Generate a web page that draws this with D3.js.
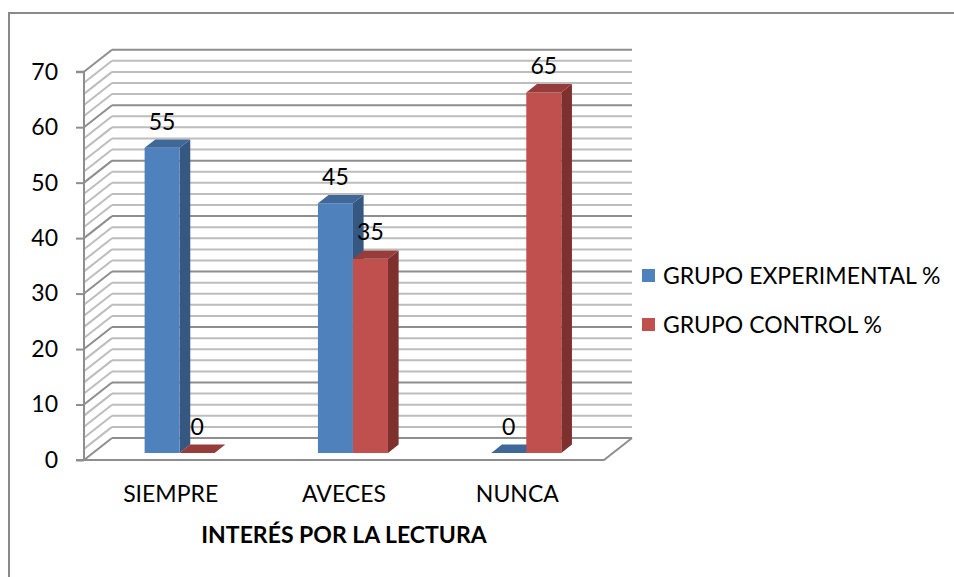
<!DOCTYPE html>
<html>
<head>
<meta charset="utf-8">
<script src="https://cdn.jsdelivr.net/npm/d3@7/dist/d3.min.js"></script>
<style>
  html, body { margin: 0; padding: 0; background: #fff; }
  svg { display: block; }
  text { font-family: Lato, "Open Sans", sans-serif; fill: #000; }
</style>
</head>
<body>
<svg id="chart" width="954" height="577"></svg>
<script>
// ---- data ----
const categories = ["SIEMPRE", "AVECES", "NUNCA"];
const seriesNames = ["GRUPO EXPERIMENTAL %", "GRUPO CONTROL %"];
const experimental = [55, 45, 0];
const control = [0, 35, 65];
const yTicks = [0, 10, 20, 30, 40, 50, 60, 70];
const axisTitle = "INTERÉS POR LA LECTURA";

// ---- styles ----
const colors = {
  front: ["#4F81BD", "#C0504D"],
  top:   ["#3F6797", "#963C3A"],
  side:  ["#36577F", "#7E302E"]
};
const FONT = 23;

const svg = d3.select("#chart");

// outer frame
svg.append("path")
  .attr("d", "M9,577 L9,13 L954,13")
  .attr("fill", "none").attr("stroke", "#898989").attr("stroke-width", 2);

// ---- scales ----
const plotLeft = 84, plotRight = 604;
const DX = 28, DY = 22;          // full wall depth
const z0 = 0.32, z1 = 0.70;       // bar depth slice

const y = d3.scaleLinear().domain([0, 70]).range([460, 71.7]);
const x0 = d3.scaleBand().domain(categories).range([plotLeft, plotRight])
  .paddingInner(0.596).paddingOuter(0.298);
const x1 = d3.scaleBand().domain(seriesNames).range([0, x0.bandwidth()]);

const proj = (x, yy, z) => [x + z * DX, yy - z * DY];
const pathOf = pts => "M" + pts.map(p => p.join(",")).join("L") + "Z";

// ---- walls / grid ----
const grid = svg.append("g");
const gridVals = d3.range(0, 71, 2);
gridVals.forEach(v => {
  const major = v % 10 === 0;
  const col = major ? "#8E8E8E" : "#BDBDBD";
  const a = proj(plotLeft, y(v), 1), b = proj(plotRight, y(v), 1);
  grid.append("line").attr("x1", a[0]).attr("y1", a[1]).attr("x2", b[0]).attr("y2", b[1])
    .attr("stroke", col).attr("stroke-width", 2);
  grid.append("line").attr("x1", plotLeft).attr("y1", y(v)).attr("x2", a[0]).attr("y2", a[1])
    .attr("stroke", col).attr("stroke-width", 2);
});
// floor
const f1 = proj(plotRight, y(0), 0), f2 = proj(plotRight, y(0), 1);
grid.append("path")
  .attr("d", `M${plotLeft},${y(0)}L${f1[0]},${f1[1]}L${f2[0]},${f2[1]}`)
  .attr("fill", "none").attr("stroke", "#8E8E8E").attr("stroke-width", 2);

// ---- y axis ----
const yAxis = d3.axisLeft(y).tickValues(yTicks).tickSize(8).tickPadding(18);
const gy = svg.append("g").attr("transform", `translate(${plotLeft},0)`).call(yAxis);
gy.select(".domain").attr("stroke", "#8E8E8E").attr("stroke-width", 2)
  .attr("d", `M-8,${y(70)}H0V${y(0)}H-8`);
gy.selectAll(".tick line").attr("stroke", "#8E8E8E").attr("stroke-width", 2);
gy.selectAll(".tick text").style("font-size", FONT + "px").attr("font-family", "Lato");

// ---- bars ----
const data = [];
categories.forEach((c, i) => {
  data.push({ cat: c, s: 0, v: experimental[i] });
  data.push({ cat: c, s: 1, v: control[i] });
});
const bars = svg.append("g");
data.forEach(d => {
  const xl = x0(d.cat) + x1(seriesNames[d.s]);
  const xr = xl + x1.bandwidth();
  const yt = y(d.v), yb = y(0);
  const g = bars.append("g");
  const fr = [proj(xl, yt, z0), proj(xr, yt, z0), proj(xr, yb, z0), proj(xl, yb, z0)];
  const sd = [proj(xr, yt, z0), proj(xr, yt, z1), proj(xr, yb, z1), proj(xr, yb, z0)];
  const tp = [proj(xl, yt, z0), proj(xr, yt, z0), proj(xr, yt, z1), proj(xl, yt, z1)];
  if (d.v > 0) {
    g.append("path").attr("d", pathOf(sd)).attr("fill", colors.side[d.s]);
    g.append("path").attr("d", pathOf(fr)).attr("fill", colors.front[d.s]);
  }
  g.append("path").attr("d", pathOf(tp)).attr("fill", colors.top[d.s]);
});

// data labels
svg.append("g").selectAll("text").data(data).join("text")
  .attr("x", d => proj(x0(d.cat) + x1(seriesNames[d.s]) + x1.bandwidth() / 2, 0, z0)[0])
  .attr("y", d => proj(0, y(d.v), z1)[1] - 10)
  .attr("text-anchor", "middle")
  .style("font-size", FONT + "px")
  .text(d => d.v);

// ---- x axis labels ----
const xAxis = d3.axisBottom(x0).tickSize(0).tickPadding(0);
const gx = svg.append("g").attr("transform", `translate(0,485)`).call(xAxis);
gx.select(".domain").remove();
gx.selectAll(".tick text").style("font-size", FONT + "px").attr("font-family", "Lato")
  .attr("dy", "0.74em");

svg.append("text")
  .attr("x", (plotLeft + plotRight) / 2)
  .attr("y", 543)
  .attr("text-anchor", "middle")
  .style("font-size", FONT + "px")
  .style("font-weight", "bold")
  .text(axisTitle);

// ---- legend ----
const legend = svg.append("g").attr("transform", "translate(642,269)");
seriesNames.forEach((s, i) => {
  const g = legend.append("g").attr("transform", `translate(0,${i * 49})`);
  g.append("rect").attr("width", 13).attr("height", 13).attr("fill", colors.front[i]);
  g.append("text").attr("x", 21).attr("y", 14.5).style("font-size", FONT + "px").text(s);
});
</script>
</body>
</html>
